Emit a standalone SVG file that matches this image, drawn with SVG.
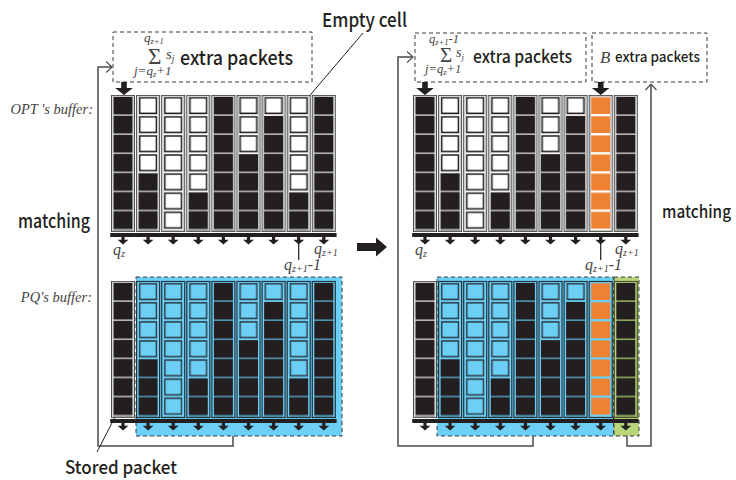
<svg xmlns="http://www.w3.org/2000/svg" xmlns:xlink="http://www.w3.org/1999/xlink" width="736" height="480" viewBox="0 0 736 480">
<style>
.co{fill:#fff;stroke:#4a4a4a;stroke-width:1}
.ci{fill:none;stroke:#b0b0b0;stroke-width:0.8}
.cp{fill:#6dcff6;stroke:#24333c;stroke-width:1.2}
.cg{fill:#b7d67b;stroke:#4a5030;stroke-width:1.2}
.dash{fill:none;stroke:#3a3a3a;stroke-width:1;stroke-dasharray:4 3}
.ln{fill:none;stroke:#4a4a4a;stroke-width:1.5}
.lbl{font-family:"Noto Sans CJK JP","Liberation Sans",sans-serif;font-weight:500;fill:#231f20}
.it{font-family:"Liberation Serif",serif;font-style:italic;fill:#444}
.sg{font-family:"Liberation Serif",serif;fill:#444}
</style>
<defs>
<pattern id="ob" patternUnits="userSpaceOnUse" x="0" y="1.8" width="24" height="19.1"><rect width="24" height="19.1" fill="#b5b5b5"/><rect width="24" height="17.5" fill="#231f20"/></pattern>
<pattern id="ow" patternUnits="userSpaceOnUse" x="0" y="1.8" width="24" height="19.1"><rect width="24" height="19.1" fill="#fff"/><rect x="2.8" y="0.2" width="18.4" height="17.1" fill="none" stroke="#9a9a9a" stroke-width="0.6"/><rect x="3.7" y="1" width="16.6" height="15.5" fill="#fff" stroke="#231f20" stroke-width="1.4"/></pattern>
<pattern id="pb" patternUnits="userSpaceOnUse" x="0" y="1.8" width="24" height="19.1"><rect width="24" height="19.1" fill="#4f93b0"/><rect width="24" height="17.5" fill="#231f20"/></pattern>
<pattern id="pbl" patternUnits="userSpaceOnUse" x="0" y="1.8" width="24" height="19.1"><rect width="24" height="19.1" fill="#6dcff6"/><rect x="3.6" y="0.9" width="16.8" height="15.7" fill="#6dcff6" stroke="#2a3942" stroke-width="1.5"/></pattern>
<pattern id="or" patternUnits="userSpaceOnUse" x="0" y="1.8" width="24" height="19.1"><rect y="0.4" width="24" height="16.8" fill="#ee8232"/></pattern>
<pattern id="gb" patternUnits="userSpaceOnUse" x="0" y="1.8" width="24" height="19.1"><rect width="24" height="19.1" fill="#8ea85c"/><rect width="24" height="17.5" fill="#231f20"/></pattern>
<g id="bar"><rect x="-0.8" y="138" width="25.6" height="4" fill="#231f20"/><path d="M10.4,142h3.2v2.8h3.8l-5.4,4.6l-5.4,-4.6h3.8z" fill="#231f20"/></g>
<g id="fo"><rect class="co" x="0.5" y="0.5" width="23" height="136"/><rect class="ci" x="1.9" y="1.2" width="20.2" height="134.6"/></g>
<rect id="fp" class="cp" x="0.5" y="0.5" width="23" height="136"/>
<rect id="fg" class="cg" x="0.5" y="0.5" width="23" height="136"/>
<rect id="a7" x="2.5" y="1.8" width="19" height="133.7"/>
<rect id="t1" x="2.5" y="1.8" width="19" height="19.1"/>
<rect id="r1" x="2.5" y="20.9" width="19" height="114.6"/>
<rect id="t3" x="2.5" y="1.8" width="19" height="57.3"/>
<rect id="r3" x="2.5" y="59.1" width="19" height="76.4"/>
<rect id="t4" x="2.5" y="1.8" width="19" height="76.4"/>
<rect id="r4" x="2.5" y="78.2" width="19" height="57.3"/>
<rect id="t5" x="2.5" y="1.8" width="19" height="95.5"/>
<rect id="r5" x="2.5" y="97.3" width="19" height="38.2"/>
<path id="tdown" d="M-2.8,0h5.6v6h6l-8.8,7l-8.8,-7h6z" fill="#231f20"/>
<marker id="chev" viewBox="0 0 7 12" refX="6.5" refY="6" markerWidth="7" markerHeight="12" markerUnits="userSpaceOnUse" orient="auto"><path d="M0.5,0.5L6.5,6L0.5,11.5" fill="none" stroke="#4a4a4a" stroke-width="1.2"/></marker>
</defs>

<!-- Left: extra packets box -->
<g id="extraLeft">
<rect class="dash" x="113" y="32" width="199" height="50"/>
<text class="it" x="144" y="42" font-size="13">q<tspan font-size="8.5" dy="2">z+1</tspan></text>
<text class="sg" x="148" y="64" font-size="23">Σ</text>
<text class="it" x="166" y="59" font-size="15">s<tspan font-size="9.5" dy="3">j</tspan></text>
<text class="it" x="134" y="75" font-size="13">j=q<tspan font-size="8.5" dy="2">z</tspan><tspan dy="-2">+1</tspan></text>
<text class="lbl" x="180" y="65" font-size="20" textLength="113" lengthAdjust="spacingAndGlyphs">extra packets</text>
</g>

<!-- Right: extra packets boxes -->
<g id="extraRight">
<rect class="dash" x="415" y="33" width="171" height="49"/>
<text class="it" x="429" y="43" font-size="12.5">q<tspan font-size="8.5" dy="2">z+1</tspan><tspan dy="-2">-1</tspan></text>
<text class="sg" x="440" y="62" font-size="21">Σ</text>
<text class="it" x="456" y="57" font-size="14">s<tspan font-size="9" dy="3">j</tspan></text>
<text class="it" x="425" y="73" font-size="12.5">j=q<tspan font-size="8.5" dy="2">z</tspan><tspan dy="-2">+1</tspan></text>
<text class="lbl" x="473" y="63" font-size="17" textLength="99" lengthAdjust="spacingAndGlyphs">extra packets</text>
</g>
<g id="extraB">
<rect class="dash" x="592" y="33" width="115" height="49"/>
<text class="it" x="600" y="63" font-size="17">B</text>
<text class="lbl" x="615" y="62" font-size="14" textLength="85" lengthAdjust="spacingAndGlyphs">extra packets</text>
</g>

<!-- Labels -->
<g id="labels">
<text class="lbl" x="322" y="27" font-size="19" textLength="85" lengthAdjust="spacingAndGlyphs">Empty cell</text>
<text class="it" x="93" y="114" font-size="14.5" text-anchor="end">OPT 's buffer:</text>
<text class="it" x="92" y="302" font-size="14.5" text-anchor="end">PQ's buffer:</text>
<text class="lbl" x="18" y="228" font-size="19" textLength="72" lengthAdjust="spacingAndGlyphs">matching</text>
<text class="lbl" x="662" y="218" font-size="17" textLength="69" lengthAdjust="spacingAndGlyphs">matching</text>
<text class="lbl" x="65" y="474" font-size="18" textLength="112" lengthAdjust="spacingAndGlyphs">Stored packet</text>
<text class="it" x="113" y="255" font-size="16">q<tspan font-size="10" dy="2">z</tspan></text>
<text class="it" x="314" y="254" font-size="16">q<tspan font-size="10" dy="2">z+1</tspan></text>
<text class="it" x="284" y="270" font-size="16">q<tspan font-size="10" dy="2">z+1</tspan><tspan dy="-2">-1</tspan></text>
<text class="it" x="415" y="255" font-size="16">q<tspan font-size="10" dy="2">z</tspan></text>
<text class="it" x="615" y="254" font-size="16">q<tspan font-size="10" dy="2">z+1</tspan></text>
<text class="it" x="585" y="270" font-size="16">q<tspan font-size="10" dy="2">z+1</tspan><tspan dy="-2">-1</tspan></text>
</g>

<!-- Connectors -->
<g id="connectors">
<path class="ln" d="M233,436V446H98V67H112" marker-end="url(#chev)"/>
<path class="ln" d="M533,436V446H398V57H413" marker-end="url(#chev)"/>
<path class="ln" d="M627,436V446H651V84" marker-end="url(#chev)"/>
<path d="M363,33L300,107" fill="none" stroke="#231f20" stroke-width="1"/>
<path d="M115,417L97,452" fill="none" stroke="#231f20" stroke-width="1"/>
<path d="M298.7,244V260" fill="none" stroke="#231f20" stroke-width="1.2"/>
<path d="M600.7,244V260" fill="none" stroke="#231f20" stroke-width="1.2"/>
<use href="#tdown" x="124" y="82"/>
<use href="#tdown" x="425" y="82"/>
<use href="#tdown" x="600.7" y="82"/>
<path d="M357,243H376V237.5L387,247L376,256.5V251H357Z" fill="#231f20"/>
</g>

<!-- Left OPT buffer -->
<g id="optLeft">
<g transform="translate(111,95)"><use href="#fo"/><use href="#a7" fill="url(#ob)"/><use href="#bar"/></g>
<g transform="translate(136.1,95)"><use href="#fo"/><use href="#t4" fill="url(#ow)"/><use href="#r4" fill="url(#ob)"/><use href="#bar"/></g>
<g transform="translate(161.2,95)"><use href="#fo"/><use href="#a7" fill="url(#ow)"/><use href="#bar"/></g>
<g transform="translate(186.3,95)"><use href="#fo"/><use href="#t5" fill="url(#ow)"/><use href="#r5" fill="url(#ob)"/><use href="#bar"/></g>
<g transform="translate(211.4,95)"><use href="#fo"/><use href="#a7" fill="url(#ob)"/><use href="#bar"/></g>
<g transform="translate(236.5,95)"><use href="#fo"/><use href="#t3" fill="url(#ow)"/><use href="#r3" fill="url(#ob)"/><use href="#bar"/></g>
<g transform="translate(261.6,95)"><use href="#fo"/><use href="#t1" fill="url(#ow)"/><use href="#r1" fill="url(#ob)"/><use href="#bar"/></g>
<g transform="translate(286.7,95)"><use href="#fo"/><use href="#t5" fill="url(#ow)"/><use href="#r5" fill="url(#ob)"/><use href="#bar"/></g>
<g transform="translate(311.8,95)"><use href="#fo"/><use href="#a7" fill="url(#ob)"/><use href="#bar"/></g>
</g>

<!-- Left PQ buffer -->
<g id="pqLeft">
<rect x="136" y="277" width="206" height="159" fill="#6dcff6" stroke="#3a3a3a" stroke-width="1" stroke-dasharray="4 3"/>
<g transform="translate(111,281)"><use href="#fo"/><use href="#a7" fill="url(#ob)"/><use href="#bar"/></g>
<g transform="translate(136.1,281)"><use href="#fp"/><use href="#t4" fill="url(#pbl)"/><use href="#r4" fill="url(#pb)"/><use href="#bar"/></g>
<g transform="translate(161.2,281)"><use href="#fp"/><use href="#a7" fill="url(#pbl)"/><use href="#bar"/></g>
<g transform="translate(186.3,281)"><use href="#fp"/><use href="#t5" fill="url(#pbl)"/><use href="#r5" fill="url(#pb)"/><use href="#bar"/></g>
<g transform="translate(211.4,281)"><use href="#fp"/><use href="#a7" fill="url(#pb)"/><use href="#bar"/></g>
<g transform="translate(236.5,281)"><use href="#fp"/><use href="#t3" fill="url(#pbl)"/><use href="#r3" fill="url(#pb)"/><use href="#bar"/></g>
<g transform="translate(261.6,281)"><use href="#fp"/><use href="#t1" fill="url(#pbl)"/><use href="#r1" fill="url(#pb)"/><use href="#bar"/></g>
<g transform="translate(286.7,281)"><use href="#fp"/><use href="#t5" fill="url(#pbl)"/><use href="#r5" fill="url(#pb)"/><use href="#bar"/></g>
<g transform="translate(311.8,281)"><use href="#fp"/><use href="#a7" fill="url(#pb)"/><use href="#bar"/></g>
</g>

<!-- Right OPT buffer -->
<g id="optRight">
<g transform="translate(413,95)"><use href="#fo"/><use href="#a7" fill="url(#ob)"/><use href="#bar"/></g>
<g transform="translate(438.1,95)"><use href="#fo"/><use href="#t4" fill="url(#ow)"/><use href="#r4" fill="url(#ob)"/><use href="#bar"/></g>
<g transform="translate(463.2,95)"><use href="#fo"/><use href="#a7" fill="url(#ow)"/><use href="#bar"/></g>
<g transform="translate(488.3,95)"><use href="#fo"/><use href="#t5" fill="url(#ow)"/><use href="#r5" fill="url(#ob)"/><use href="#bar"/></g>
<g transform="translate(513.4,95)"><use href="#fo"/><use href="#a7" fill="url(#ob)"/><use href="#bar"/></g>
<g transform="translate(538.5,95)"><use href="#fo"/><use href="#t3" fill="url(#ow)"/><use href="#r3" fill="url(#ob)"/><use href="#bar"/></g>
<g transform="translate(563.6,95)"><use href="#fo"/><use href="#t1" fill="url(#ow)"/><use href="#r1" fill="url(#ob)"/><use href="#bar"/></g>
<g transform="translate(588.7,95)"><use href="#fo"/><use href="#a7" fill="url(#or)"/><use href="#bar"/></g>
<g transform="translate(613.8,95)"><use href="#fo"/><use href="#a7" fill="url(#ob)"/><use href="#bar"/></g>
</g>

<!-- Right PQ buffer -->
<g id="pqRight">
<rect x="437" y="277" width="176.5" height="159" fill="#6dcff6" stroke="#3a3a3a" stroke-width="1" stroke-dasharray="4 3"/>
<rect x="614" y="277" width="25" height="159" fill="#b7d67b" stroke="#3a3a3a" stroke-width="1" stroke-dasharray="4 3"/>
<g transform="translate(413,281)"><use href="#fo"/><use href="#a7" fill="url(#ob)"/><use href="#bar"/></g>
<g transform="translate(438.1,281)"><use href="#fp"/><use href="#t4" fill="url(#pbl)"/><use href="#r4" fill="url(#pb)"/><use href="#bar"/></g>
<g transform="translate(463.2,281)"><use href="#fp"/><use href="#a7" fill="url(#pbl)"/><use href="#bar"/></g>
<g transform="translate(488.3,281)"><use href="#fp"/><use href="#t5" fill="url(#pbl)"/><use href="#r5" fill="url(#pb)"/><use href="#bar"/></g>
<g transform="translate(513.4,281)"><use href="#fp"/><use href="#a7" fill="url(#pb)"/><use href="#bar"/></g>
<g transform="translate(538.5,281)"><use href="#fp"/><use href="#t3" fill="url(#pbl)"/><use href="#r3" fill="url(#pb)"/><use href="#bar"/></g>
<g transform="translate(563.6,281)"><use href="#fp"/><use href="#t1" fill="url(#pbl)"/><use href="#r1" fill="url(#pb)"/><use href="#bar"/></g>
<g transform="translate(588.7,281)"><use href="#fp"/><use href="#a7" fill="url(#or)"/><use href="#bar"/></g>
<g transform="translate(613.8,281)"><use href="#fg"/><use href="#a7" fill="url(#gb)"/><use href="#bar"/></g>
</g>
</svg>
